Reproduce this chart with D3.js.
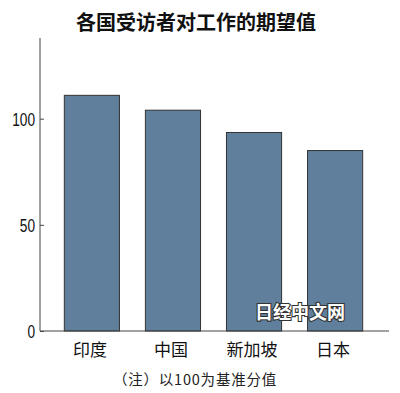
<!DOCTYPE html>
<html><head><meta charset="utf-8">
<script src="https://cdn.jsdelivr.net/npm/d3@7"></script>
<style>body{margin:0;background:#fff}svg{display:block}</style>
</head><body>
<script>
const categories = ["印度", "中国", "新加坡", "日本"];
const values = [111, 104, 93.5, 85];
const tickValues = [0, 50, 100];
const title = "各国受访者对工作的期望值";
const note = "（注）以100为基准分值";
const watermark = "日经中文网";

const W = 400, H = 393;
const svg = d3.select("body").append("svg").attr("width", W).attr("height", H);
svg.append("rect").attr("width", W).attr("height", H).attr("fill", "#fff");

const x = d3.scaleBand().domain(categories).range([40, 387]).paddingInner(0.32).paddingOuter(0.3);
const y = d3.scaleLinear().domain([0, 138]).range([331, 38]);

const cjk = "'Noto Sans CJK SC', 'Noto Sans', sans-serif";

svg.append("text").attr("x", 196).attr("y", 30).attr("text-anchor", "middle")
  .attr("font-family", cjk).attr("font-weight", "bold").attr("font-size", 20).attr("fill", "#111").text(title);

svg.selectAll("rect.bar").data(values).join("rect").attr("class", "bar")
  .attr("x", (d, i) => x(categories[i]))
  .attr("y", d => y(d))
  .attr("width", x.bandwidth())
  .attr("height", d => y(0) - y(d))
  .attr("fill", "#5f7f9c").attr("stroke", "#333").attr("stroke-width", 1);

// y axis
const sx = 0.72;
const ya = svg.append("g").attr("transform", "translate(40,0)")
  .call(d3.axisLeft(y).tickValues(tickValues).tickSize(-4).tickPadding(8).tickSizeOuter(0));
ya.select(".domain").attr("stroke", "#444").attr("d", `M0,${y(0)}V38`);
ya.selectAll(".tick line").attr("stroke", "#444");
ya.selectAll(".tick text").attr("font-family", "'Liberation Sans', sans-serif")
  .attr("font-size", 19).attr("fill", "#111").attr("dy", "0.36em")
  .attr("x", -5 / sx).attr("transform", `scale(${sx},1)`);

// x axis
const xa = svg.append("g").attr("transform", `translate(0,${y(0)})`)
  .call(d3.axisBottom(x).tickSize(0).tickPadding(10));
xa.select(".domain").attr("stroke", "#444").attr("d", "M40,0H389");
xa.selectAll(".tick text").attr("font-family", cjk).attr("font-size", 17).attr("fill", "#111")
  .attr("dy", "0.9em").attr("x", -2);

svg.append("text").attr("x", 300).attr("y", 319).attr("text-anchor", "middle")
  .attr("font-family", cjk).attr("font-weight", "bold").attr("font-size", 18)
  .attr("fill", "#fff").attr("stroke", "#333").attr("stroke-width", 2.2).attr("paint-order", "stroke").text(watermark);

svg.append("text").attr("x", 195).attr("y", 385).attr("text-anchor", "middle")
  .attr("font-family", cjk).attr("font-size", 14.5).attr("letter-spacing", 0.8).attr("fill", "#222").text(note);
</script>
</body></html>
